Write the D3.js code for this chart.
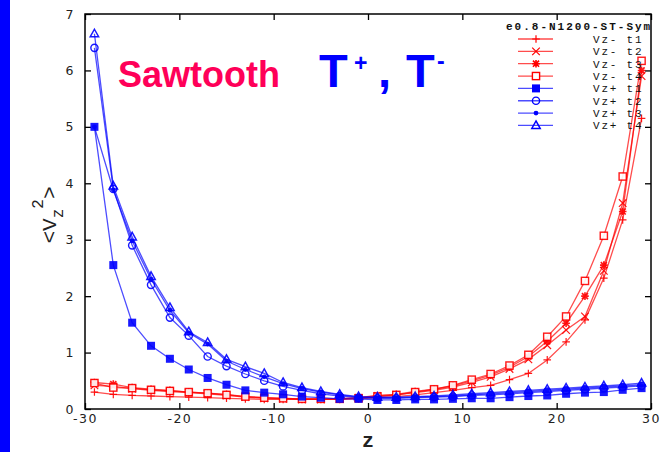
<!DOCTYPE html>
<html><head><meta charset="utf-8">
<script src="https://cdn.jsdelivr.net/npm/d3@7"></script>
<style>body{margin:0;background:#fff;}svg{display:block;}</style>
</head><body>
<svg id="c" width="670" height="452"></svg>
<script>
const zValues = [-29,-27,-25,-23,-21,-19,-17,-15,-13,-11,-9,-7,-5,-3,-1,1,3,5,7,9,11,13,15,17,19,21,23,25,27,29];
const vzMinusT1 = [0.30,0.26,0.24,0.23,0.22,0.21,0.20,0.19,0.18,0.17,0.17,0.17,0.17,0.17,0.18,0.20,0.22,0.25,0.29,0.33,0.38,0.42,0.52,0.63,0.87,1.19,1.58,2.32,3.35,5.15];
const vzMinusT2 = [0.42,0.40,0.36,0.33,0.31,0.29,0.27,0.24,0.21,0.19,0.18,0.17,0.17,0.18,0.20,0.23,0.25,0.29,0.33,0.39,0.47,0.57,0.71,0.88,1.13,1.40,1.64,2.45,3.65,5.90];
const vzMinusT3 = [0.47,0.44,0.38,0.35,0.33,0.30,0.28,0.26,0.22,0.20,0.19,0.18,0.18,0.18,0.20,0.24,0.26,0.31,0.35,0.41,0.50,0.60,0.74,0.93,1.20,1.52,2.00,2.55,3.50,6.00];
const vzMinusT4 = [0.46,0.38,0.37,0.34,0.32,0.30,0.28,0.25,0.22,0.20,0.19,0.18,0.18,0.18,0.19,0.22,0.25,0.30,0.35,0.42,0.52,0.62,0.77,0.96,1.28,1.64,2.27,3.07,4.12,6.17];
const vzPlusT1 = [5.00,2.55,1.53,1.12,0.89,0.70,0.55,0.43,0.33,0.29,0.26,0.22,0.20,0.18,0.18,0.16,0.16,0.17,0.17,0.18,0.19,0.19,0.21,0.23,0.24,0.27,0.29,0.30,0.34,0.37];
const vzPlusT2 = [6.40,3.90,2.90,2.20,1.62,1.30,0.93,0.76,0.62,0.50,0.40,0.33,0.27,0.23,0.20,0.19,0.19,0.20,0.21,0.22,0.24,0.25,0.27,0.29,0.31,0.33,0.35,0.37,0.39,0.41];
const vzPlusT3 = [5.00,3.88,2.98,2.30,1.75,1.35,1.15,0.85,0.70,0.57,0.45,0.36,0.30,0.25,0.21,0.20,0.20,0.21,0.22,0.23,0.25,0.27,0.29,0.31,0.33,0.35,0.37,0.39,0.41,0.43];
const vzPlusT4 = [6.65,3.95,3.05,2.35,1.80,1.37,1.18,0.88,0.75,0.63,0.47,0.38,0.31,0.26,0.22,0.21,0.21,0.22,0.23,0.25,0.27,0.29,0.31,0.33,0.35,0.37,0.39,0.41,0.43,0.46];
const seriesNames = ["Vz- t1","Vz- t2","Vz- t3","Vz- t4","Vz+ t1","Vz+ t2","Vz+ t3","Vz+ t4"];
const xTicks = [-30,-20,-10,0,10,20,30];
const yTicks = [0,1,2,3,4,5,6,7];
const legendTitle = "e0.8-N1200-ST-Sym";

const seriesValues = [vzMinusT1,vzMinusT2,vzMinusT3,vzMinusT4,vzPlusT1,vzPlusT2,vzPlusT3,vzPlusT4];
const colors = ["#ff0000","#ff0000","#ff0000","#ff0000","#0000ff","#0000ff","#0000ff","#0000ff"];
const markers = ["plus","cross","star","osquare","fsquare","ocircle","fdot","otri"];

const svg = d3.select("#c");
svg.append("rect").attr("x",0).attr("y",0).attr("width",670).attr("height",452).attr("fill","#fff");
svg.append("rect").attr("x",0).attr("y",0).attr("width",10).attr("height",452).attr("fill","#0000ff");

const L=85,R=651,T=14,B=409;
const x = d3.scaleLinear().domain([-30,30]).range([L,R]);
const y = d3.scaleLinear().domain([0,7]).range([B,T]);
const fmt = d => String(d);

// axes with inward ticks (mirrored)
const gx = svg.append("g").attr("transform",`translate(0,${B})`).call(d3.axisBottom(x).tickValues(xTicks).tickFormat(fmt).tickSizeInner(-6).tickSizeOuter(0).tickPadding(5));
const gx2 = svg.append("g").attr("transform",`translate(0,${T})`).call(d3.axisTop(x).tickValues(xTicks).tickSizeInner(-6).tickSizeOuter(0).tickFormat(""));
const gy = svg.append("g").attr("transform",`translate(${L},0)`).call(d3.axisLeft(y).tickValues(yTicks).tickFormat(fmt).tickSizeInner(-6).tickSizeOuter(0).tickPadding(10));
const gy2 = svg.append("g").attr("transform",`translate(${R},0)`).call(d3.axisRight(y).tickValues(yTicks).tickSizeInner(-6).tickSizeOuter(0).tickFormat(""));
[gx,gx2,gy,gy2].forEach(g=>{g.select(".domain").remove();g.selectAll("line").attr("stroke","#000").attr("stroke-width",1.3);});
[gx,gy].forEach(g=>{g.selectAll("text").attr("fill","#222").style("font-family","DejaVu Sans, sans-serif").style("font-size","12.5px").style("letter-spacing","1.5px");});
gx.selectAll("text").attr("y",5).attr("dy","0.71em");
svg.append("rect").attr("x",L).attr("y",T).attr("width",R-L).attr("height",B-T).attr("fill","none").attr("stroke","#000").attr("stroke-width",1.5);

// marker drawing
function drawMarker(g,type,cx,cy,color){
  const s=3.8;
  if(type==="plus"){
    g.append("path").attr("d",`M${cx-s},${cy}H${cx+s}M${cx},${cy-s}V${cy+s}`).attr("stroke",color).attr("stroke-width",1.2).attr("fill","none");
  } else if(type==="cross"){
    g.append("path").attr("d",`M${cx-s},${cy-s}L${cx+s},${cy+s}M${cx-s},${cy+s}L${cx+s},${cy-s}`).attr("stroke",color).attr("stroke-width",1.2).attr("fill","none");
  } else if(type==="star"){
    g.append("path").attr("d",`M${cx-s},${cy}H${cx+s}M${cx},${cy-s}V${cy+s}M${cx-s*0.8},${cy-s*0.8}L${cx+s*0.8},${cy+s*0.8}M${cx-s*0.8},${cy+s*0.8}L${cx+s*0.8},${cy-s*0.8}`).attr("stroke",color).attr("stroke-width",1.6).attr("fill","none");
  } else if(type==="osquare"){
    g.append("rect").attr("x",cx-3.6).attr("y",cy-3.6).attr("width",7.2).attr("height",7.2).attr("fill","#fff").attr("stroke",color).attr("stroke-width",1.4);
  } else if(type==="fsquare"){
    g.append("rect").attr("x",cx-4).attr("y",cy-4).attr("width",8).attr("height",8).attr("fill",color);
  } else if(type==="ocircle"){
    g.append("circle").attr("cx",cx).attr("cy",cy).attr("r",3.6).attr("fill","none").attr("stroke",color).attr("stroke-width",1.4);
  } else if(type==="fdot"){
    g.append("circle").attr("cx",cx).attr("cy",cy).attr("r",2.4).attr("fill",color);
  } else if(type==="otri"){
    g.append("path").attr("d",`M${cx},${cy-4.5}L${cx+4.2},${cy+3}L${cx-4.2},${cy+3}Z`).attr("fill","none").attr("stroke",color).attr("stroke-width",1.5);
  }
}

const line = d3.line().x(d=>x(d[0])).y(d=>y(d[1]));
const plot = svg.append("g");
seriesValues.forEach((vals,i)=>{
  const pts = zValues.map((z,k)=>[z,vals[k]]);
  plot.append("path").attr("d",line(pts)).attr("fill","none").attr("stroke",colors[i]).attr("stroke-width",1.3).attr("stroke-opacity",0.7);
  const mg = plot.append("g").attr("opacity",0.9);
  pts.forEach(p=>drawMarker(mg,markers[i],x(p[0]),y(p[1]),colors[i]));
});

// legend
svg.append("clipPath").attr("id","pc").append("rect").attr("x",L).attr("y",T).attr("width",R-L).attr("height",B-T);
const lg = svg.append("g").attr("clip-path","url(#pc)");
const monoFont = "Liberation Mono, Courier New, monospace";
lg.append("text").attr("x",506).attr("y",30).text(legendTitle)
  .style("font-family",monoFont).style("font-size","11px").style("font-weight","bold").style("letter-spacing","2px").attr("fill","#111");
seriesNames.forEach((nm,i)=>{
  const yy = 39 + i*12.35;
  lg.append("line").attr("x1",518).attr("x2",553).attr("y1",yy).attr("y2",yy).attr("stroke",colors[i]).attr("stroke-width",1.3).attr("stroke-opacity",0.7);
  drawMarker(lg,markers[i],536,yy,colors[i]);
  lg.append("text").attr("x",593).attr("y",yy+4).text(nm)
    .style("font-family",monoFont).style("font-size","11px").style("letter-spacing","1.8px").attr("fill","#111");
});

// axis labels
svg.append("text").attr("x",368).attr("y",447).attr("text-anchor","middle").text("z")
  .style("font-family",monoFont).style("font-size","20px").style("font-weight","bold").attr("fill","#222");
const yl = svg.append("text").attr("transform","translate(56,215) rotate(-90)").attr("text-anchor","middle")
  .style("font-family",monoFont).style("font-size","21px").attr("fill","#222");
yl.append("tspan").text("<V");
yl.append("tspan").attr("dy",7).style("font-size","16px").text("z");
yl.append("tspan").attr("dy",-20).style("font-size","16px").text("2");
yl.append("tspan").attr("dy",13).text(">");

// annotations
const boldSans = "Liberation Sans, Arial, Helvetica, sans-serif";
svg.append("text").attr("x",118).attr("y",87).text("Sawtooth")
  .style("font-family",boldSans).style("font-weight","bold").style("font-size","36px").attr("fill","#ff0058");
const tg = svg.append("g").attr("fill","#0000ff").style("font-family",boldSans).style("font-weight","bold");
tg.append("text").attr("x",319).attr("y",87).style("font-size","47px").text("T");
tg.append("text").attr("x",354).attr("y",71).style("font-size","23px").text("+");
tg.append("text").attr("x",378).attr("y",87).style("font-size","47px").text(",");
tg.append("text").attr("x",406).attr("y",87).style("font-size","47px").text("T");
tg.append("text").attr("x",437).attr("y",69).style("font-size","23px").text("-");
</script>
</body></html>
